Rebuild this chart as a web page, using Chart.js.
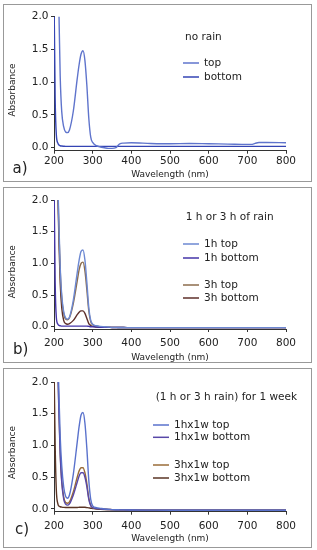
<!DOCTYPE html>
<html>
<head>
<meta charset="utf-8">
<script src="https://cdn.jsdelivr.net/npm/chart.js@4.4.0/dist/chart.umd.min.js"></script>
<style>
  body { margin:0; background:#fff; width:317px; height:550px; overflow:hidden; }
  .box { position:absolute; border:1px solid #999; box-sizing:border-box; pointer-events:none; }
  canvas { position:absolute; }
</style>
</head>
<body>
<div class="box" style="left:3px;top:4px;width:309px;height:178px"></div>
<div class="box" style="left:3px;top:187px;width:309px;height:176px"></div>
<div class="box" style="left:3px;top:368px;width:309px;height:180px"></div>
<canvas id="chartA" width="309" height="178" style="left:3px;top:4px"></canvas>
<canvas id="chartB" width="309" height="176" style="left:3px;top:187px"></canvas>
<canvas id="chartC" width="309" height="180" style="left:3px;top:368px"></canvas>
<script>
// wavelength grid (nm), shared by every spectrum
const wl = [200,203,206,210,213,216,220,225,230,235,240,250,260,265,270,275,280,285,290,295,300,310,320,330,340,350,360,365,370,380,400,450,500,550,600,650,700,710,720,730,750,800];
const xTicks = [200,300,400,500,600,700,800];
const yTicks = [0,0.5,1.0,1.5,2.0];

// a) no rain
const aTop    = [9.0,6.5,4.5,2.8,2.0,1.1,0.55,0.32,0.24,0.23,0.27,0.56,1.05,1.27,1.43,1.48,1.33,0.95,0.45,0.16,0.08,0.03,0.01,0.0,-0.01,-0.01,0.0,0.03,0.06,0.07,0.075,0.065,0.06,0.065,0.06,0.055,0.05,0.05,0.065,0.08,0.08,0.075];
const aBottom = [2.4,0.75,0.2,0.07,0.04,0.03,0.025,0.022,0.02,0.02,0.02,0.02,0.02,0.02,0.02,0.02,0.02,0.02,0.02,0.02,0.02,0.02,0.02,0.02,0.02,0.02,0.02,0.02,0.02,0.02,0.02,0.02,0.02,0.02,0.02,0.02,0.02,0.02,0.02,0.02,0.02,0.02];

// b) 1 h or 3 h of rain
const b1hTop    = [9.0,6.0,4.0,2.3,1.55,0.95,0.5,0.24,0.14,0.12,0.15,0.42,0.85,1.05,1.19,1.21,1.05,0.7,0.3,0.1,0.04,0.015,0.005,0.0,-0.005,-0.01,-0.01,-0.012,-0.012,-0.013,-0.015,-0.015,-0.015,-0.015,-0.015,-0.015,-0.015,-0.015,-0.015,-0.015,-0.015,-0.015];
const b1hBottom = [2.4,0.7,0.15,0.04,0.02,0.015,0.01,0.01,0.01,0.01,0.01,0.01,0.01,0.01,0.01,0.01,0.01,0.01,0.005,0.0,0.0,-0.005,-0.008,-0.01,-0.01,-0.012,-0.012,-0.012,-0.013,-0.013,-0.015,-0.015,-0.015,-0.015,-0.015,-0.015,-0.015,-0.015,-0.015,-0.015,-0.015,-0.015];
const b3hTop    = [9.0,5.8,3.8,2.2,1.45,0.9,0.46,0.21,0.12,0.11,0.14,0.37,0.72,0.9,1.0,1.02,0.88,0.58,0.25,0.08,0.03,0.01,0.0,-0.005,-0.008,-0.01,-0.01,-0.012,-0.012,-0.013,-0.015,-0.015,-0.015,-0.015,-0.015,-0.015,-0.015,-0.015,-0.015,-0.015,-0.015,-0.015];
const b3hBottom = [9.0,5.5,3.5,2.1,1.3,0.7,0.3,0.1,0.05,0.04,0.05,0.1,0.19,0.23,0.25,0.25,0.21,0.13,0.05,0.02,0.005,-0.005,-0.01,-0.01,-0.01,-0.012,-0.012,-0.012,-0.013,-0.013,-0.015,-0.015,-0.015,-0.015,-0.015,-0.015,-0.015,-0.015,-0.015,-0.015,-0.015,-0.015];

// c) (1 h or 3 h rain) for 1 week
const c1hTop    = [9.0,6.5,4.2,2.5,1.75,1.15,0.68,0.35,0.2,0.17,0.22,0.55,1.05,1.3,1.48,1.52,1.35,0.95,0.45,0.15,0.05,0.02,0.01,0.0,-0.005,-0.01,-0.012,-0.013,-0.014,-0.015,-0.016,-0.018,-0.02,-0.02,-0.02,-0.02,-0.02,-0.02,-0.02,-0.02,-0.02,-0.02];
const c1hBottom = [9.0,6.0,3.8,2.2,1.45,0.85,0.42,0.16,0.075,0.06,0.08,0.22,0.42,0.52,0.57,0.57,0.5,0.35,0.15,0.05,0.02,0.005,0.0,-0.005,-0.008,-0.01,-0.012,-0.013,-0.014,-0.015,-0.016,-0.018,-0.02,-0.02,-0.02,-0.02,-0.02,-0.02,-0.02,-0.02,-0.02,-0.02];
const c3hTop    = [9.0,6.0,3.9,2.25,1.5,0.9,0.45,0.19,0.1,0.09,0.11,0.27,0.5,0.6,0.65,0.65,0.57,0.4,0.17,0.06,0.02,0.005,0.0,-0.005,-0.008,-0.01,-0.012,-0.013,-0.014,-0.015,-0.016,-0.018,-0.02,-0.02,-0.02,-0.02,-0.02,-0.02,-0.02,-0.02,-0.02,-0.02];
const c3hBottom = [2.3,1.0,0.3,0.08,0.045,0.035,0.03,0.025,0.022,0.022,0.022,0.022,0.024,0.026,0.028,0.028,0.026,0.022,0.018,0.012,0.008,0.0,-0.005,-0.008,-0.01,-0.012,-0.013,-0.014,-0.015,-0.015,-0.016,-0.018,-0.02,-0.02,-0.02,-0.02,-0.02,-0.02,-0.02,-0.02,-0.02,-0.02];

Chart.defaults.font.family = '"DejaVu Sans", sans-serif';
Chart.defaults.font.size = 10.5;
Chart.defaults.color = '#222';

// letter, rotated y title and the hand-placed legend of each panel
function decoPlugin(p) {
  return {
    id: 'deco',
    afterDraw(chart) {
      const c = chart.ctx;
      c.save();
      c.fillStyle = '#222';
      c.textBaseline = 'middle';
      c.font = '15px "DejaVu Sans"';
      c.fillText(p.letter, p.letterX, p.letterY);
      c.save();
      c.translate(p.absX, p.absY);
      c.rotate(-Math.PI / 2);
      c.font = '9px "DejaVu Sans"';
      c.textAlign = 'center';
      c.fillText('Absorbance', 0, 0);
      c.restore();
      c.font = '10.5px "DejaVu Sans"';
      c.fillText(p.title, p.titleX, p.titleY);
      chart.data.datasets.forEach((ds, i) => {
        const y = p.itemY[i];
        c.strokeStyle = ds.borderColor;
        c.lineWidth = 1.5;
        c.beginPath(); c.moveTo(p.lineX, y); c.lineTo(p.lineX + 16, y); c.stroke();
        c.fillText(ds.label, p.lineX + 21, y);
      });
      c.restore();
    }
  };
}

function makePanel(id, series, p) {
  const ctx = document.getElementById(id).getContext('2d');
  return new Chart(ctx, {
    type: 'line',
    data: {
      datasets: series.map(s => ({
        label: s.label, borderColor: s.color, borderWidth: 1.4,
        data: wl.map((x, i) => ({ x: x, y: s.values[i] })),
        pointRadius: 0, fill: false, cubicInterpolationMode: 'monotone'
      }))
    },
    options: {
      responsive: false, animation: false, devicePixelRatio: 1,
      layout: { padding: { top: p.top, right: 26, left: 0, bottom: 0 } },
      plugins: { legend: { display: false }, tooltip: { enabled: false } },
      scales: {
        x: {
          type: 'linear', min: 200, max: 800,
          afterBuildTicks: s => { s.ticks = xTicks.map(v => ({ value: v })); },
          afterFit: s => { s.height = p.xh; },
          grid: { drawOnChartArea: false, tickLength: 3, color: '#333' },
          border: { color: '#333', width: 1 },
          ticks: { padding: p.xpad, maxRotation: 0 },
          title: { display: true, text: 'Wavelength (nm)', font: { size: 9 }, padding: { top: 0, bottom: p.tpad } }
        },
        y: {
          min: p.ymin, max: 2.0,
          afterBuildTicks: s => { s.ticks = yTicks.map(v => ({ value: v })); },
          afterFit: s => { s.width = 51; },
          grid: { drawOnChartArea: false, tickLength: 3, color: '#333' },
          border: { color: '#333', width: 1 },
          ticks: { padding: 2.5, callback: v => v.toFixed(1) }
        }
      }
    },
    plugins: [decoPlugin(p)]
  });
}

makePanel('chartA', [
  { label: 'top', color: '#5f74cc', values: aTop },
  { label: 'bottom', color: '#3444b4', values: aBottom }
], { top: 12.7, xh: 31.3, xpad: 1.5, tpad: 1.6, ymin: -0.046,
     letter: 'a)', letterX: 9.5, letterY: 165, absX: 10, absY: 86,
     title: 'no rain', titleX: 182, titleY: 33, lineX: 180, itemY: [59, 73] });

makePanel('chartB', [
  { label: '1h top', color: '#6c88d2', values: b1hTop },
  { label: '1h bottom', color: '#4434a8', values: b1hBottom },
  { label: '3h top', color: '#8c6c4c', values: b3hTop },
  { label: '3h bottom', color: '#5e2f2a', values: b3hBottom }
], { top: 13, xh: 34, xpad: 5, tpad: 0, ymin: -0.036,
     letter: 'b)', letterX: 10, letterY: 163, absX: 9.5, absY: 84.7,
     title: '1 h or 3 h of rain', titleX: 182.7, titleY: 30, lineX: 180, itemY: [57, 71, 98, 111] });

makePanel('chartC', [
  { label: '1hx1w top', color: '#5a72cc', values: c1hTop },
  { label: '1hx1w bottom', color: '#5848a8', values: c1hBottom },
  { label: '3hx1w top', color: '#9a6c38', values: c3hTop },
  { label: '3hx1w bottom', color: '#5a3424', values: c3hBottom }
], { top: 14, xh: 36.3, xpad: 5, tpad: 3.6, ymin: -0.043,
     letter: 'c)', letterX: 12, letterY: 162, absX: 9.5, absY: 84.5,
     title: '(1 h or 3 h rain) for 1 week', titleX: 152.7, titleY: 29, lineX: 150, itemY: [57, 69.3, 97, 110] });
</script>
</body>
</html>
